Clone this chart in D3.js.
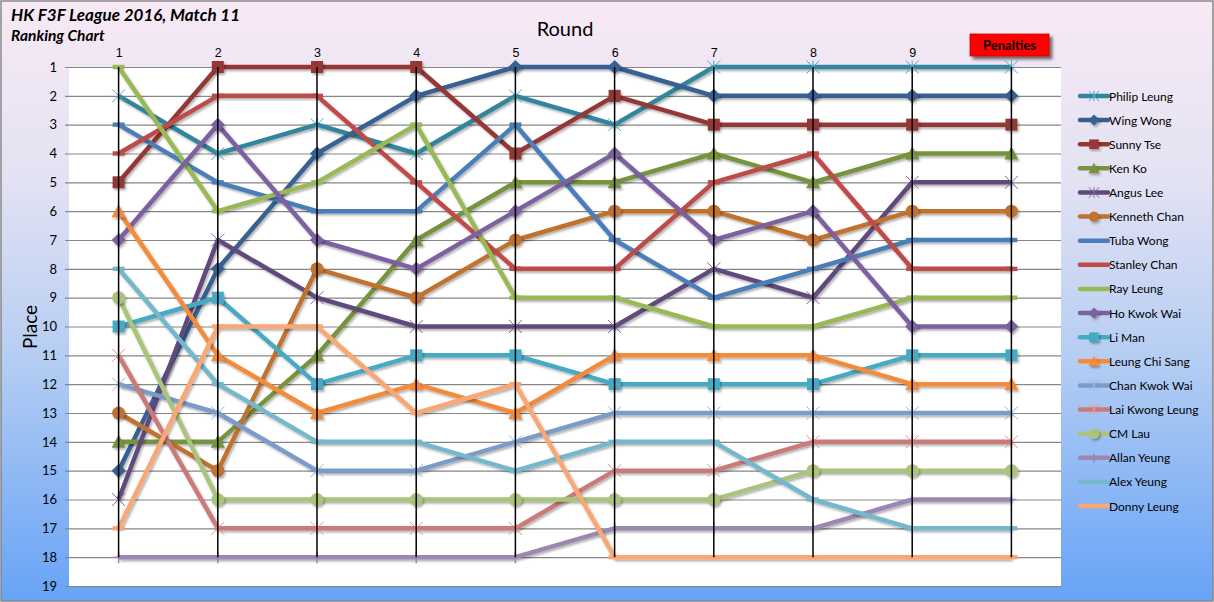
<!DOCTYPE html>
<html><head><meta charset="utf-8">
<script src="https://cdn.jsdelivr.net/npm/d3@7"></script>
<style>
html,body{margin:0;padding:0;background:#fff;}
svg{display:block;font-family:Lato,"Open Sans",sans-serif;}
</style></head>
<body>
<svg id="chart" width="1214" height="602"></svg>
<script>
const rounds = [1,2,3,4,5,6,7,8,9,10];
const roundLabels = ["1","2","3","4","5","6","7","8","9",""];
const places = d3.range(1,20);
const names = ["Philip Leung","Wing Wong","Sunny Tse","Ken Ko","Angus Lee","Kenneth Chan","Tuba Wong","Stanley Chan","Ray Leung","Ho Kwok Wai","Li Man","Leung Chi Sang","Chan Kwok Wai","Lai Kwong Leung","CM Lau","Allan Yeung","Alex Yeung","Donny Leung"];
const philipLeung   = [2,4,3,4,2,3,1,1,1,1];
const wingWong      = [15,8,4,2,1,1,2,2,2,2];
const sunnyTse      = [5,1,1,1,4,2,3,3,3,3];
const kenKo         = [14,14,11,7,5,5,4,5,4,4];
const angusLee      = [16,7,9,10,10,10,8,9,5,5];
const kennethChan   = [13,15,8,9,7,6,6,7,6,6];
const tubaWong      = [3,5,6,6,3,7,9,8,7,7];
const stanleyChan   = [4,2,2,5,8,8,5,4,8,8];
const rayLeung      = [1,6,5,3,9,9,10,10,9,9];
const hoKwokWai     = [7,3,7,8,6,4,7,6,10,10];
const liMan         = [10,9,12,11,11,12,12,12,11,11];
const leungChiSang  = [6,11,13,12,13,11,11,11,12,12];
const chanKwokWai   = [12,13,15,15,14,13,13,13,13,13];
const laiKwongLeung = [11,17,17,17,17,15,15,14,14,14];
const cmLau         = [9,16,16,16,16,16,16,15,15,15];
const allanYeung    = [18,18,18,18,18,17,17,17,16,16];
const alexYeung     = [8,12,14,14,15,14,14,16,17,17];
const donnyLeung    = [17,10,10,13,12,18,18,18,18,18];
const seriesValues = [philipLeung,wingWong,sunnyTse,kenKo,angusLee,kennethChan,tubaWong,stanleyChan,rayLeung,hoKwokWai,liMan,leungChiSang,chanKwokWai,laiKwongLeung,cmLau,allanYeung,alexYeung,donnyLeung];
const colors = ["#31859C","#376092","#953735","#77933C","#604A7B","#C0722F","#4A7EBB","#BE4B48","#98B954","#7D60A0","#46AAC5","#F38B3B","#7C9BC9","#CA7A78","#ABC47D","#9A88B2","#75B8CC","#F9A774"];
const markers = ["star","diamond","square","triangle","star","circle","dash","dash","dash","diamond","square","triangle","star","star","circle","plus","dash","dash"];
const markerColors = ["#4BACC6",null,null,null,"#8064A2",null,null,null,null,null,null,null,"#95B3D7","#E6908E",null,null,null,null];

const svg = d3.select("#chart");
const W = 1214, H = 602;
const defs = svg.append("defs");
const grad = defs.append("linearGradient").attr("id","bg").attr("x1",0).attr("y1",0).attr("x2",0).attr("y2",1);
grad.append("stop").attr("offset","0%").attr("stop-color","#F8E9F5");
grad.append("stop").attr("offset","30%").attr("stop-color","#E3E2F3");
grad.append("stop").attr("offset","60%").attr("stop-color","#B4CDF3");
grad.append("stop").attr("offset","100%").attr("stop-color","#67A3F6");
const sh = defs.append("filter").attr("id","sh").attr("x","-50%").attr("y","-50%").attr("width","200%").attr("height","200%");
sh.append("feDropShadow").attr("dx",1.5).attr("dy",2).attr("stdDeviation",1.2).attr("flood-color","#000").attr("flood-opacity",0.3);
const sh2 = defs.append("filter").attr("id","sh2").attr("x","-50%").attr("y","-50%").attr("width","200%").attr("height","200%");
sh2.append("feDropShadow").attr("dx",3).attr("dy",3).attr("stdDeviation",1.5).attr("flood-color","#000").attr("flood-opacity",0.55);

svg.append("rect").attr("x",1).attr("y",1).attr("width",W-2).attr("height",H-2)
  .attr("fill","url(#bg)").attr("stroke","#868686").attr("stroke-width",1.5);

const plot = {left:69, right:1061, top:67, bottom:586};
const x = d3.scalePoint().domain(rounds).range([plot.left, plot.right]).padding(0.5);
const y = d3.scaleLinear().domain([1,19]).range([plot.top, plot.bottom]);

svg.append("rect").attr("x",plot.left).attr("y",plot.top).attr("width",plot.right-plot.left).attr("height",plot.bottom-plot.top).attr("fill","#fff");

// Left axis with gridlines
const yAxis = svg.append("g").attr("transform",`translate(${plot.left-4},0)`)
  .call(d3.axisLeft(y).tickValues(places).tickSize(-(plot.right-plot.left+4)).tickPadding(8).tickFormat(d3.format("d")));
yAxis.select(".domain").remove();
yAxis.selectAll(".tick line").attr("stroke","#868686").attr("stroke-width",1.2);
yAxis.selectAll(".tick text").attr("font-size",13).attr("fill","#000").attr("font-family","Lato,sans-serif");

// Top axis labels
const xAxis = svg.append("g").attr("transform",`translate(0,57)`)
  .call(d3.axisTop(x).tickSize(0).tickPadding(0).tickFormat((d,i)=>roundLabels[i]));
xAxis.select(".domain").remove();
xAxis.selectAll(".tick text").attr("font-size",12.5).attr("fill","#000").attr("dy","0");

// Series lines
const line = d3.line().x((d,i)=>x(rounds[i])).y(d=>y(d));
const gLines = svg.append("g");
names.forEach((n,si)=>{
  const g = gLines.append("g").attr("filter","url(#sh)");
  g.append("path").datum(seriesValues[si]).attr("d",line).attr("fill","none")
    .attr("stroke",colors[si]).attr("stroke-width",4.5).attr("stroke-linejoin","round");
});

function drawMarker(g, type, cx, cy, col, mcol, scale){
  const s = scale||1;
  if(type==="square"){
    g.append("rect").attr("x",cx-6*s).attr("y",cy-6*s).attr("width",12*s).attr("height",12*s).attr("fill",col).attr("filter","url(#sh)");
  } else if(type==="diamond"){
    g.append("path").attr("d",`M${cx},${cy-7*s}L${cx+7*s},${cy}L${cx},${cy+7*s}L${cx-7*s},${cy}Z`).attr("fill",col).attr("filter","url(#sh)");
  } else if(type==="triangle"){
    g.append("path").attr("d",`M${cx},${cy-7*s}L${cx+7*s},${cy+6*s}L${cx-7*s},${cy+6*s}Z`).attr("fill",col).attr("filter","url(#sh)");
  } else if(type==="circle"){
    g.append("circle").attr("cx",cx).attr("cy",cy).attr("r",6.5*s).attr("fill",col).attr("filter","url(#sh)");
  } else if(type==="star"){
    const r=6.5*s;
    g.append("path").attr("d",`M${cx-r},${cy-r}L${cx+r},${cy+r}M${cx-r},${cy+r}L${cx+r},${cy-r}M${cx},${cy-r}L${cx},${cy+r}`)
      .attr("stroke",mcol||col).attr("stroke-width",1).attr("fill","none");
  } else if(type==="plus"){
    g.append("path").attr("d",`M${cx},${cy-5*s}L${cx},${cy+6*s}M${cx-5*s},${cy}L${cx+5*s},${cy}`)
      .attr("stroke",col).attr("stroke-width",1.5).attr("fill","none");
  } else if(type==="dash"){
    g.append("rect").attr("x",cx-6*s).attr("y",cy-2.2).attr("width",12*s).attr("height",4.4).attr("fill",col);
  }
}

// Markers
const gMarks = svg.append("g");
names.forEach((n,si)=>{
  const g = gMarks.append("g");
  seriesValues[si].forEach((v,i)=>drawMarker(g, markers[si], x(rounds[i]), y(v), colors[si], markerColors[si], 1));
});

// High-low (drop) lines
const minP = rounds.map((r,i)=>d3.min(seriesValues, s=>s[i]));
const maxP = rounds.map((r,i)=>d3.max(seriesValues, s=>s[i]));
svg.append("g").selectAll("line").data(rounds).join("line")
  .attr("x1",d=>x(d)).attr("x2",d=>x(d))
  .attr("y1",(d,i)=>y(minP[i])).attr("y2",(d,i)=>y(maxP[i]))
  .attr("stroke","#000").attr("stroke-width",1.5);

// Titles
svg.append("text").attr("x",11).attr("y",21).attr("font-size",17).attr("font-weight","bold").attr("font-style","italic").attr("fill","#000").text("HK F3F League 2016, Match 11");
svg.append("text").attr("x",11).attr("y",41).attr("font-size",15.5).attr("font-weight","bold").attr("font-style","italic").attr("fill","#000").text("Ranking Chart");
svg.append("text").attr("x",565).attr("y",36).attr("text-anchor","middle").attr("font-size",20).attr("fill","#000").text("Round");
svg.append("text").attr("transform","translate(37,327) rotate(-90)").attr("text-anchor","middle").attr("font-size",19).attr("fill","#000").text("Place");

// Penalties button
const pb = svg.append("g");
pb.append("rect").attr("x",970).attr("y",34).attr("width",79).attr("height",22).attr("fill","#FF0000").attr("stroke","#C00000").attr("stroke-width",0.8).attr("filter","url(#sh2)");
pb.append("text").attr("x",1009.5).attr("y",50).attr("text-anchor","middle").attr("font-size",13).attr("font-weight","bold").attr("fill","#000").text("Penalties");

// Legend
const lg = svg.append("g");
const ly = d3.scalePoint().domain(names).range([96,506]);
names.forEach((n,si)=>{
  const cy = ly(n);
  const g = lg.append("g");
  g.append("line").attr("x1",1080).attr("x2",1108).attr("y1",cy).attr("y2",cy).attr("stroke",colors[si]).attr("stroke-width",4.5).attr("stroke-linecap","round");
  drawMarker(g, markers[si]==="dash"?"none":markers[si], 1094, cy, colors[si], markerColors[si], 0.8);
  g.append("text").attr("x",1109).attr("y",cy+4.5).attr("font-size",12).attr("fill","#000").text(n);
});
</script>
</body></html>
